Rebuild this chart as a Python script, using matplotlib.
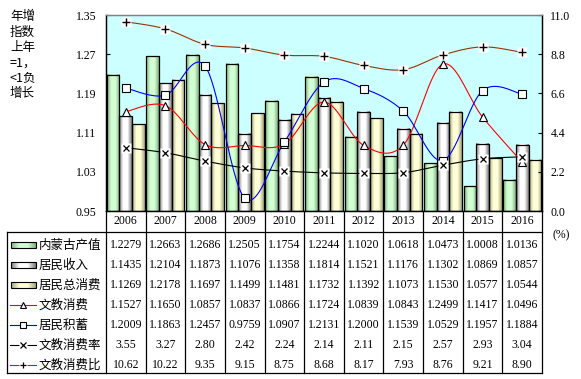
import numpy as np
import matplotlib.pyplot as plt
from matplotlib.colors import LinearSegmentedColormap

years = ['2006', '2007', '2008', '2009', '2010', '2011', '2012', '2013', '2014', '2015', '2016']
gdp = [1.2279, 1.2663, 1.2686, 1.2505, 1.1754, 1.2244, 1.1020, 1.0618, 1.0473, 1.0008, 1.0136]
income = [1.1435, 1.2104, 1.1873, 1.1076, 1.1358, 1.1814, 1.1521, 1.1176, 1.1302, 1.0869, 1.0857]
consume = [1.1269, 1.2178, 1.1697, 1.1499, 1.1481, 1.1732, 1.1392, 1.1073, 1.1530, 1.0577, 1.0544]
edu = [1.1527, 1.1650, 1.0857, 1.0837, 1.0866, 1.1724, 1.0839, 1.0843, 1.2499, 1.1417, 1.0496]
saving = [1.2009, 1.1863, 1.2457, 0.9759, 1.0907, 1.2131, 1.2000, 1.1539, 1.0529, 1.1957, 1.1884]
edu_rate = [3.55, 3.27, 2.80, 2.42, 2.24, 2.14, 2.11, 2.15, 2.57, 2.93, 3.04]
edu_ratio = [10.62, 10.22, 9.35, 9.15, 8.75, 8.68, 8.17, 7.93, 8.76, 9.21, 8.90]

row_names = ['内蒙古产值', '居民收入', '居民总消费', '文教消费', '居民积蓄', '文教消费率', '文教消费比']

serif = 'Liberation Serif'
cjk = ['Noto Sans CJK SC', 'DejaVu Sans']

W, H = 581, 379
fig = plt.figure(figsize=(W / 100, H / 100), dpi=100)

# axes in pixel layout
L, R, T, B = 106, 542, 15, 211
ax = fig.add_axes([L / W, 1 - B / H, (R - L) / W, (B - T) / H])
ax.set_facecolor('#CCFFFF')
ax2 = ax.twinx()

n = len(years)
x = np.arange(n) + 0.5


def smooth(xs, ys, k=20):
    # catmull-rom style smoothing (like excel smoothed lines)
    xs = np.asarray(xs, float)
    ys = np.asarray(ys, float)
    px = np.concatenate([[xs[0]], xs, [xs[-1]]])
    py = np.concatenate([[ys[0]], ys, [ys[-1]]])
    ox, oy = [], []
    t = np.linspace(0, 1, k)
    for i in range(1, len(px) - 2):
        p0, p1, p2, p3 = [np.array([px[j], py[j]]) for j in range(i - 1, i + 3)]
        c1 = p1 + (p2 - p0) / 6
        c2 = p2 - (p3 - p1) / 6
        pts = ((1 - t) ** 3)[:, None] * p1 + (3 * (1 - t) ** 2 * t)[:, None] * c1 \
            + (3 * (1 - t) * t ** 2)[:, None] * c2 + (t ** 3)[:, None] * p2
        ox.extend(pts[:, 0])
        oy.extend(pts[:, 1])
    return ox, oy


def grad_cmap(edge, center):
    return LinearSegmentedColormap.from_list('g', [edge, center, center, edge])


cm_green = grad_cmap('#7FB27F', '#D4FFD4')
cm_grey = grad_cmap('#7A7A7A', '#FFFFFF')
cm_yellow = grad_cmap('#A5A57A', '#FFFFD8')
grad = np.linspace(0, 1, 64)[None, :]

bw = 0.32
ymin, ymax = 0.95, 1.35
for vals, off, cm in [(gdp, -bw, cm_green), (income, 0, cm_grey), (consume, bw, cm_yellow)]:
    for xi, v in zip(x, vals):
        x0 = xi + off - bw / 2
        ax.imshow(grad, cmap=cm, extent=[x0, x0 + bw, ymin, v], aspect='auto', zorder=2)
        ax.add_patch(plt.Rectangle((x0, ymin), bw, v - ymin, fill=False, ec='black', lw=0.9, zorder=3))

sx, sy = smooth(x, edu)
ax.plot(sx, sy, color='red', lw=0.8, zorder=4)
ax.plot(x, edu, ls='none', marker='^', ms=6, mfc='white', mec='black', mew=0.8, zorder=5)
sx, sy = smooth(x, saving)
ax.plot(sx, sy, color='blue', lw=0.8, zorder=4)
ax.plot(x, saving, ls='none', marker='s', ms=5.5, mfc='white', mec='black', mew=0.8, zorder=5)

sx, sy = smooth(x, edu_rate)
ax2.plot(sx, sy, color='black', lw=0.8, zorder=4)
ax2.plot(x, edu_rate, ls='none', marker='s', ms=7, mfc='white', mec='none', zorder=5)
ax2.plot(x, edu_rate, ls='none', marker='x', ms=5, mec='black', mew=0.9, zorder=6)
sx, sy = smooth(x, edu_ratio)
ax2.plot(sx, sy, color='#993300', lw=0.8, zorder=4)
ax2.plot(x, edu_ratio, ls='none', marker='s', ms=7, mfc='white', mec='none', zorder=5)
ax2.plot(x, edu_ratio, ls='none', marker='+', ms=6, mec='black', mew=1.0, zorder=6)

ax.set_xlim(0, n)
ax.set_ylim(ymin, ymax)
ax2.set_ylim(0, 11)
ax.set_yticks(np.arange(0.95, 1.351, 0.08))
ax.set_yticklabels(['%.2f' % v for v in np.arange(0.95, 1.351, 0.08)])
ax2.set_yticks(np.arange(0, 11.01, 2.2))
ax2.set_yticklabels(['%.1f' % v for v in np.arange(0, 11.01, 2.2)])
ax.set_xticks([])
for a in (ax, ax2):
    a.tick_params(axis='y', direction='in', length=3, width=0.8, labelsize=8.5, pad=6)
    for lab in a.get_yticklabels():
        lab.set_fontfamily(serif)
    for s in a.spines.values():
        s.set_linewidth(0.9)
    a.spines['top'].set_color('#808080')
ax.tick_params(axis='y', pad=7)

# overlay for table and text, pixel coordinates
ov = fig.add_axes([0, 0, 1, 1])
ov.set_xlim(0, W)
ov.set_ylim(H, 0)
ov.axis('off')
ov.patch.set_alpha(0)

cw = (R - L) / n
tb_top, hdr_bot, tb_bot, tb_left = B, 232, 373, 7
lk = dict(color='black', lw=0.9)
for i in range(n + 1):
    ov.plot([L + i * cw] * 2, [tb_top, tb_bot], **lk)
ov.plot([tb_left, R], [hdr_bot] * 2, **lk)
ov.plot([tb_left, R], [tb_bot] * 2, **lk)
ov.plot([tb_left] * 2, [hdr_bot, tb_bot], **lk)

for i, yr in enumerate(years):
    ov.text(L + (i + 0.5) * cw, 221.5, yr, ha='center', va='center', fontsize=8.5, family=serif)

rows = [['%.4f' % v for v in gdp], ['%.4f' % v for v in income], ['%.4f' % v for v in consume],
        ['%.4f' % v for v in edu], ['%.4f' % v for v in saving],
        ['%.2f' % v for v in edu_rate], ['%.2f' % v for v in edu_ratio]]
for r, vals in enumerate(rows):
    yc = 245 + 20 * r
    for i, s in enumerate(vals):
        ov.text(L + (i + 0.5) * cw, yc, s, ha='center', va='center', fontsize=8.5, family=serif)
    ov.text(39, yc, row_names[r], ha='left', va='center', fontsize=9, family=cjk)

# legend keys
for r, cm in enumerate([cm_green, cm_grey, cm_yellow]):
    yc = 245 + 20 * r
    ov.imshow(grad, cmap=cm, extent=[11, 36, yc + 3, yc - 3], aspect='auto', zorder=2)
    ov.add_patch(plt.Rectangle((11, yc - 3), 25, 6, fill=False, ec='black', lw=0.8, zorder=3))
ov.set_xlim(0, W)
ov.set_ylim(H, 0)
keys = [('red', '^', 'black'), ('blue', 's', 'black'), ('black', 'x', None), ('#993300', '+', None)]
for k, (c, m, ec) in enumerate(keys):
    yc = 245 + 20 * (3 + k)
    ov.plot([10, 36], [yc, yc], color=c, lw=0.8)
    if ec:
        ov.plot([23], [yc], marker=m, ms=5, mfc='white', mec=ec, mew=0.8)
    else:
        ov.plot([23], [yc], marker='s', ms=6, mfc='white', mec='none')
        ov.plot([23], [yc], marker=m, ms=4.5, mec='black', mew=0.9)

ov.text(561, 235, '(%)', ha='center', va='center', fontsize=8.5, family=serif)
ov.text(10, 10, '年增\n指数\n上年\n=1，\n<1负\n增长', ha='left', va='top', fontsize=9,
        family=cjk, linespacing=1.25)

fig.savefig('out.png', dpi=100)
